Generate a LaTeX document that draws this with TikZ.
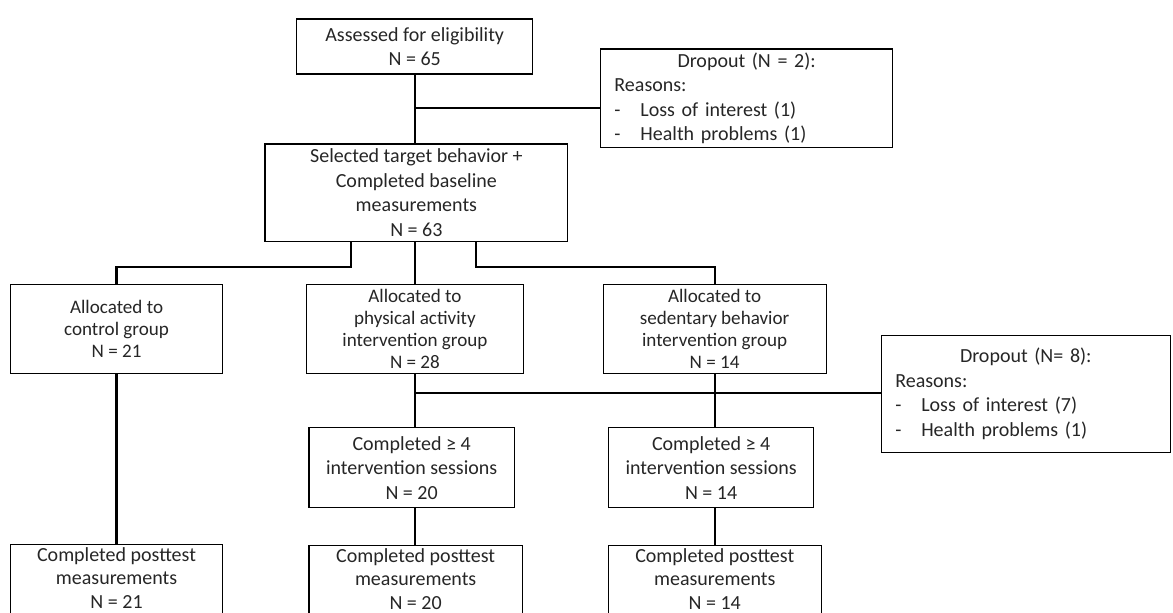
\documentclass[tikz,border=0pt]{standalone}
\usepackage{fontspec}
\setmainfont{Carlito}
\usetikzlibrary{positioning}
\tikzset{
  box/.style    ={rectangle,draw,line width=0.65pt,align=center,inner sep=0pt,
                  text=black!85,font=\fontsize{11}{13.4}\selectfont},
  alloc/.style  ={box,font=\fontsize{10.5}{12}\selectfont,minimum height=48.95pt},
  post/.style   ={box,font=\fontsize{11}{12.9}\selectfont,minimum height=44.4pt,text depth=8pt},
  dropbox/.style={rectangle,draw,line width=0.65pt,align=left,inner xsep=7.7pt,
                  inner ysep=0pt,text=black!85,font=\fontsize{11}{13.4}\selectfont},
  conn/.style   ={line width=1.2pt}
}
\newcommand{\itm}[1]{\makebox[14.3pt][l]{-}#1}

\begin{document}
\begin{tikzpicture}
  \useasboundingbox (0,0) rectangle (645.15pt,-337.15pt);
  \clip (0,0) rectangle (645.15pt,-337.15pt);

  % Nodes
  \node (assess)   [box, minimum width=129.8pt, minimum height=30.25pt] at (228.1pt,-25.6pt)
                   {Assessed for eligibility\\N = 65};
  \node (select)   [box, below=37.8pt of assess, xshift=0.9pt, minimum width=166.5pt, minimum height=53.5pt]
                   {Selected target behavior +\\Completed baseline\\measurements\\N = 63};
  \node (pa)       [alloc, below=23.1pt of select, xshift=-0.8pt, minimum width=119.1pt]
                   {Allocated to\\physical activity\\intervention group\\N = 28};
  \node (ctrl)     [alloc, left=45.5pt of pa, minimum width=116.8pt]
                   {Allocated to\\control group\\N = 21};
  \node (sb)       [alloc, right=43.3pt of pa, minimum width=122.65pt]
                   {Allocated to\\sedentary behavior\\intervention group\\N = 14};
  \node (compa)    [box, below=29.3pt of pa, xshift=-1.8pt, minimum width=112.9pt, minimum height=44pt]
                   {Completed ≥ 4\\intervention sessions\\N = 20};
  \node (comsb)    [box, below=29.3pt of sb, xshift=-1.9pt, minimum width=113pt, minimum height=44pt]
                   {Completed ≥ 4\\intervention sessions\\N = 14};
  \node (postctrl) [post, below=93.5pt of ctrl, minimum width=116.8pt]
                   {Completed posttest\\measurements\\N = 21};
  \node (postpa)   [post, below=20.2pt of compa, xshift=2.2pt, minimum width=117.3pt]
                   {Completed posttest\\measurements\\N = 20};
  \node (postsb)   [post, below=20.2pt of comsb, xshift=2pt, minimum width=117pt]
                   {Completed posttest\\measurements\\N = 14};
  \node (drop1)    [dropbox, right=36.6pt of assess.north east, anchor=north west, yshift=-16.5pt,
                    text width=145.4pt, minimum height=54.1pt]
                   {\makebox[\hsize]{Dropout (N = 2):}\\Reasons:\\\itm{Loss of interest (1)}\\\itm{Health problems (1)}};
  \node (drop2)    [dropbox, right=29.7pt of sb.north east, anchor=north west, yshift=-27.9pt,
                    text width=143.6pt, minimum height=64.5pt]
                   {\makebox[\hsize]{Dropout (N= 8):}\\Reasons:\\\itm{Loss of interest (7)}\\\itm{Health problems (1)}};

  % Lines
  \coordinate (j1) at ([yshift=-18.15pt]assess.south);
  \coordinate (sl) at ([xshift=-36pt]select.south);
  \coordinate (sr) at ([xshift=32.8pt]select.south);
  \coordinate (j2) at ([yshift=-10.45pt]pa.south);
  \draw [conn] (assess.south) -- (assess.south |- select.north);
  \draw [conn] (j1) -- (j1 -| drop1.west);
  \draw [conn] (sl) -- ++(0,-13.75pt) -| (ctrl.north);
  \draw [conn] (pa.north |- select.south) -- (pa.north);
  \draw [conn] (sr) -- ++(0,-13.75pt) -| (sb.north);
  \draw [conn] (ctrl.south) -- (postctrl.north);
  \draw [conn] (pa.south) -- (compa.north -| pa.south);
  \draw [conn] (j2) -- (j2 -| drop2.west);
  \draw [conn] (sb.south) -- (comsb.north -| sb.south);
  \draw [conn] (compa.south -| pa.south) -- (postpa.north -| pa.south);
  \draw [conn] (comsb.south -| sb.south) -- (postsb.north -| sb.south);
\end{tikzpicture}
\end{document}
